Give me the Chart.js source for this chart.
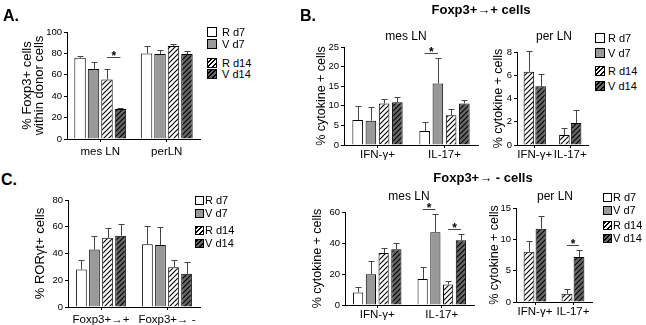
<!DOCTYPE html>
<html>
<head>
<meta charset="utf-8">
<script src="https://cdn.jsdelivr.net/npm/chart.js@4"></script>
<style>
  html, body { margin: 0; padding: 0; background: #fff; overflow: hidden; }
  body { width: 646px; height: 325px; position: relative; font-family: "Liberation Sans", Arial, sans-serif; color: #000; }
  canvas { position: absolute; }
  .t { position: absolute; white-space: nowrap; line-height: 1; transform: translate(-50%, -50%); }
  .b { font-weight: bold; }
  .sw { position: absolute; width: 9px; height: 9px; border: 1px solid #000; box-sizing: border-box; }
  .lt { position: absolute; font-size: 11px; line-height: 1; white-space: nowrap; transform: translateY(-50%); }
  .s0 { background: #fff; }
  .s1 { background: #999; }
  .s2 { background: repeating-linear-gradient(-45deg, #fff 0 2px, #000 2px 3.2px); }
  .s3 { background: repeating-linear-gradient(-45deg, #666 0 2px, #000 2px 3.2px); }
</style>
</head>
<body>
<canvas id="chartA"></canvas>
<canvas id="chartBmes"></canvas>
<canvas id="chartBper"></canvas>
<canvas id="chartC"></canvas>
<canvas id="chartDmes"></canvas>
<canvas id="chartDper"></canvas>

<div class="t b" style="left:11px; top:16px; font-size:16px;">A.</div>
<div class="t b" style="left:308px; top:16px; font-size:16px;">B.</div>
<div class="t b" style="left:9px; top:180px; font-size:16px;">C.</div>
<div class="t b" style="left:481px; top:9px; font-size:13px;">Foxp3+→+ cells</div>
<div class="t b" style="left:483px; top:177px; font-size:13px;">Foxp3+→ - cells</div>
<div class="t" style="left:406px; top:36px; font-size:12px;">mes LN</div>
<div class="t" style="left:554px; top:36px; font-size:12px;">per LN</div>
<div class="t" style="left:409px; top:196px; font-size:12px;">mes LN</div>
<div class="t" style="left:555px; top:196px; font-size:12px;">per LN</div>

<script>
const seriesNames = ['R d7', 'V d7', 'R d14', 'V d14'];

// A. % Foxp3+ cells within donor cells
const aCats = ['mes LN', 'perLN'];
const aRd7 = [76, 80], aRd7Err = [1.5, 7];
const aVd7 = [65.5, 79.5], aVd7Err = [6.5, 4];
const aRd14 = [55.5, 87], aRd14Err = [10, 1.7];
const aVd14 = [28, 79.5], aVd14Err = [1, 3];
const aTicks = [0, 20, 40, 60, 80, 100];
const aSig = [[0, 2, 3, 77]]; // [category, series a, series b, bracket level]

// B. Foxp3+ -> + cells, % cytokine + cells
const bCats = ['IFN-γ+', 'IL-17+'];
const bMesRd7 = [6.4, 3.6], bMesRd7Err = [3.5, 2.2];
const bMesVd7 = [6.2, 15.7], bMesVd7Err = [3.4, 6.6];
const bMesRd14 = [10.6, 7.6], bMesRd14Err = [1.1, 1.5];
const bMesVd14 = [10.9, 10.6], bMesVd14Err = [1.4, 1.0];
const bMesTicks = [0, 5, 10, 15, 20, 25];
const bMesSig = [[1, 0, 1, 23.5]];
const bPerRd14 = [6.3, 0.85], bPerRd14Err = [1.8, 0.65];
const bPerVd14 = [5.05, 1.9], bPerVd14Err = [1.05, 1.1];
const bPerTicks = [0, 2, 4, 6, 8];

// C. % RORgt+ cells
const cCats = ['Foxp3+→+', 'Foxp3+→ -'];
const cRd7 = [28, 47], cRd7Err = [7.5, 13.5];
const cVd7 = [43, 46.3], cVd7Err = [10, 13.7];
const cRd14 = [51.8, 29.8], cRd14Err = [7, 5.7];
const cVd14 = [53.3, 24.8], cVd14Err = [8.5, 9];
const cTicks = [0, 20, 40, 60, 80];

// D. Foxp3+ -> - cells, % cytokine + cells
const dMesRd7 = [8.1, 16.7], dMesRd7Err = [3.5, 7.9];
const dMesVd7 = [19.9, 46.9], dMesVd7Err = [8.6, 12];
const dMesRd14 = [33.6, 13.3], dMesRd14Err = [3.4, 2.3];
const dMesVd14 = [36, 41.8], dMesVd14Err = [4, 3.8];
const dMesTicks = [0, 20, 40, 60];
const dMesSig = [[1, 0, 1, 62], [1, 2, 3, 49]];
const dPerRd14 = [8.0, 1.3], dPerRd14Err = [1.7, 0.8];
const dPerVd14 = [11.7, 7.2], dPerVd14Err = [2.1, 1.15];
const dPerTicks = [0, 5, 10, 15];
const dPerSig = [[1, 0, 1, 9.1]];

Chart.defaults.font.family = '"Liberation Sans", Arial, sans-serif';
Chart.defaults.color = '#000';

function hatch(bg) {
    const c = document.createElement('canvas');
    c.width = c.height = 5;
    const g = c.getContext('2d');
    g.fillStyle = bg;
    g.fillRect(0, 0, 5, 5);
    g.strokeStyle = '#000';
    g.lineWidth = 1.1;
    g.beginPath();
    g.moveTo(0, 5); g.lineTo(5, 0);
    g.moveTo(-1, 1); g.lineTo(1, -1);
    g.moveTo(4, 6); g.lineTo(6, 4);
    g.stroke();
    return g.createPattern(c, 'repeat');
}

const fills = ['#ffffff', '#999999', hatch('#ffffff'), hatch('#666666')];

const errorBars = {
    id: 'errorBars',
    afterDatasetsDraw(chart) {
        const ctx = chart.ctx, ys = chart.scales.y;
        ctx.save();
        ctx.strokeStyle = '#444';
        ctx.lineWidth = 1;
        chart.data.datasets.forEach((ds, i) => {
            chart.getDatasetMeta(i).data.forEach((bar, j) => {
                const x = Math.round(bar.x) + 0.5;
                const y1 = Math.round(ys.getPixelForValue(ds.data[j] + ds.errors[j])) + 0.5;
                ctx.beginPath();
                ctx.moveTo(x, bar.y);
                ctx.lineTo(x, y1);
                ctx.moveTo(x - 3, y1);
                ctx.lineTo(x + 3, y1);
                ctx.stroke();
            });
        });
        ctx.restore();
    }
};

function sigBars(list) {
    return {
        id: 'sigBars',
        afterDraw(chart) {
            const ctx = chart.ctx;
            ctx.save();
            list.forEach(([cat, a, b, level]) => {
                const xa = chart.getDatasetMeta(a).data[cat].x;
                const xb = chart.getDatasetMeta(b).data[cat].x;
                const y = Math.round(chart.scales.y.getPixelForValue(level)) + 0.5;
                ctx.strokeStyle = '#444';
                ctx.lineWidth = 1;
                ctx.beginPath();
                ctx.moveTo(xa, y);
                ctx.lineTo(xb, y);
                ctx.stroke();
                ctx.fillStyle = '#000';
                ctx.font = 'bold 12px "Liberation Sans", Arial, sans-serif';
                ctx.textAlign = 'center';
                ctx.textBaseline = 'alphabetic';
                ctx.fillText('*', (xa + xb) / 2, y + 2);
            });
            ctx.restore();
        }
    };
}

function drawPanel(id, g, cats, series, ticks, sig, title) {
    const canvas = document.getElementById(id);
    const cLeft = g.left - g.yw, cTop = g.top - g.pt;
    const w = g.right - cLeft + 4, h = g.bottom - cTop + g.xh;
    canvas.width = w;
    canvas.height = h;
    canvas.style.left = cLeft + 'px';
    canvas.style.top = cTop + 'px';
    canvas.style.width = w + 'px';
    canvas.style.height = h + 'px';

    new Chart(canvas, {
        type: 'bar',
        data: {
            labels: cats,
            datasets: series.map(s => ({
                label: seriesNames[s.k],
                data: s.data,
                errors: s.err,
                backgroundColor: fills[s.k],
                borderColor: '#000',
                borderWidth: 1,
                categoryPercentage: g.cp,
                barPercentage: g.bp
            }))
        },
        options: {
            responsive: false,
            animation: false,
            devicePixelRatio: 1,
            layout: { padding: { top: g.pt, right: 4, left: 0, bottom: 0 } },
            plugins: { legend: { display: false }, tooltip: { enabled: false } },
            scales: {
                x: {
                    grid: { display: true, offset: false, drawOnChartArea: false, color: '#000', tickLength: 3 },
                    border: { color: '#000' },
                    ticks: { color: '#000', font: { size: 11.5 }, padding: g.xpad, autoSkip: false, maxRotation: 0 },
                    afterFit: s => { s.height = g.xh; }
                },
                y: {
                    min: ticks[0],
                    max: ticks[ticks.length - 1],
                    afterBuildTicks: s => { s.ticks = ticks.map(v => ({ value: v })); },
                    grid: { drawOnChartArea: false, color: '#000', tickLength: 3 },
                    border: { color: '#000' },
                    ticks: { color: '#000', font: { size: 9.5 }, padding: 2 },
                    title: {
                        display: true,
                        text: title,
                        color: '#000',
                        font: { size: g.tfs, lineHeight: g.tlh + 'px' },
                        padding: { top: g.titleX - cLeft - g.tlh / 2, bottom: 0 }
                    },
                    afterFit: s => { s.width = g.yw; }
                }
            }
        },
        plugins: [errorBars, sigBars(sig)]
    });
}

drawPanel('chartA',
    { left: 67, right: 200, top: 32, bottom: 139, yw: 60, pt: 12, xh: 32, xpad: 3, cp: 0.81, bp: 0.85, titleX: 27, tlh: 12, tfs: 13 },
    aCats,
    [{ k: 0, data: aRd7, err: aRd7Err }, { k: 1, data: aVd7, err: aVd7Err },
     { k: 2, data: aRd14, err: aRd14Err }, { k: 3, data: aVd14, err: aVd14Err }],
    aTicks, aSig, ['% Foxp3+ cells', 'within donor cells']);

drawPanel('chartBmes',
    { left: 344, right: 478, top: 47, bottom: 145, yw: 40, pt: 12, xh: 28, xpad: 0, cp: 0.79, bp: 0.8, titleX: 322, tlh: 13, tfs: 12.5 },
    bCats,
    [{ k: 0, data: bMesRd7, err: bMesRd7Err }, { k: 1, data: bMesVd7, err: bMesVd7Err },
     { k: 2, data: bMesRd14, err: bMesRd14Err }, { k: 3, data: bMesVd14, err: bMesVd14Err }],
    bMesTicks, bMesSig, '% cytokine + cells');

drawPanel('chartBper',
    { left: 517, right: 588, top: 52, bottom: 145, yw: 32, pt: 12, xh: 28, xpad: 0, cp: 0.66, bp: 0.9, titleX: 499, tlh: 13, tfs: 12.5 },
    bCats,
    [{ k: 2, data: bPerRd14, err: bPerRd14Err }, { k: 3, data: bPerVd14, err: bPerVd14Err }],
    bPerTicks, [], '% cytokine + cells');

drawPanel('chartC',
    { left: 68, right: 200, top: 200, bottom: 307, yw: 50, pt: 12, xh: 20, xpad: 3, cp: 0.79, bp: 0.82, titleX: 40, tlh: 13, tfs: 13 },
    cCats,
    [{ k: 0, data: cRd7, err: cRd7Err }, { k: 1, data: cVd7, err: cVd7Err },
     { k: 2, data: cRd14, err: cRd14Err }, { k: 3, data: cVd14, err: cVd14Err }],
    cTicks, [], '% RORγt+ cells');

drawPanel('chartDmes',
    { left: 345, right: 474, top: 212, bottom: 305, yw: 40, pt: 18, xh: 20, xpad: 0, cp: 0.79, bp: 0.8, titleX: 318, tlh: 13, tfs: 12.5 },
    bCats,
    [{ k: 0, data: dMesRd7, err: dMesRd7Err }, { k: 1, data: dMesVd7, err: dMesVd7Err },
     { k: 2, data: dMesRd14, err: dMesRd14Err }, { k: 3, data: dMesVd14, err: dMesVd14Err }],
    dMesTicks, dMesSig, '% cytokine + cells');

drawPanel('chartDper',
    { left: 516, right: 592, top: 208, bottom: 302, yw: 32, pt: 12, xh: 23, xpad: 0, cp: 0.63, bp: 0.9, titleX: 495, tlh: 13, tfs: 12.5 },
    bCats,
    [{ k: 2, data: dPerRd14, err: dPerRd14Err }, { k: 3, data: dPerVd14, err: dPerVd14Err }],
    dPerTicks, dPerSig, '% cytokine + cells');

// legends (swatch left, text left, row centres)
function addLegend(boxX, textX, rows, size) {
    seriesNames.forEach((name, i) => {
        const sw = document.createElement('div');
        sw.className = 'sw s' + i;
        sw.style.left = boxX + 'px';
        sw.style.top = (rows[i] - size / 2) + 'px';
        sw.style.width = size + 'px';
        sw.style.height = size + 'px';
        document.body.appendChild(sw);
        const t = document.createElement('div');
        t.className = 'lt';
        t.style.left = textX + 'px';
        t.style.top = rows[i] + 'px';
        t.textContent = name;
        document.body.appendChild(t);
    });
}
addLegend(207, 222, [32, 44, 63, 74], 10);
addLegend(595, 608, [38, 53, 71, 86], 10);
addLegend(195, 205, [200, 213, 230, 243], 9);
addLegend(603, 613, [197, 210, 225, 238], 9);
</script>
</body>
</html>
